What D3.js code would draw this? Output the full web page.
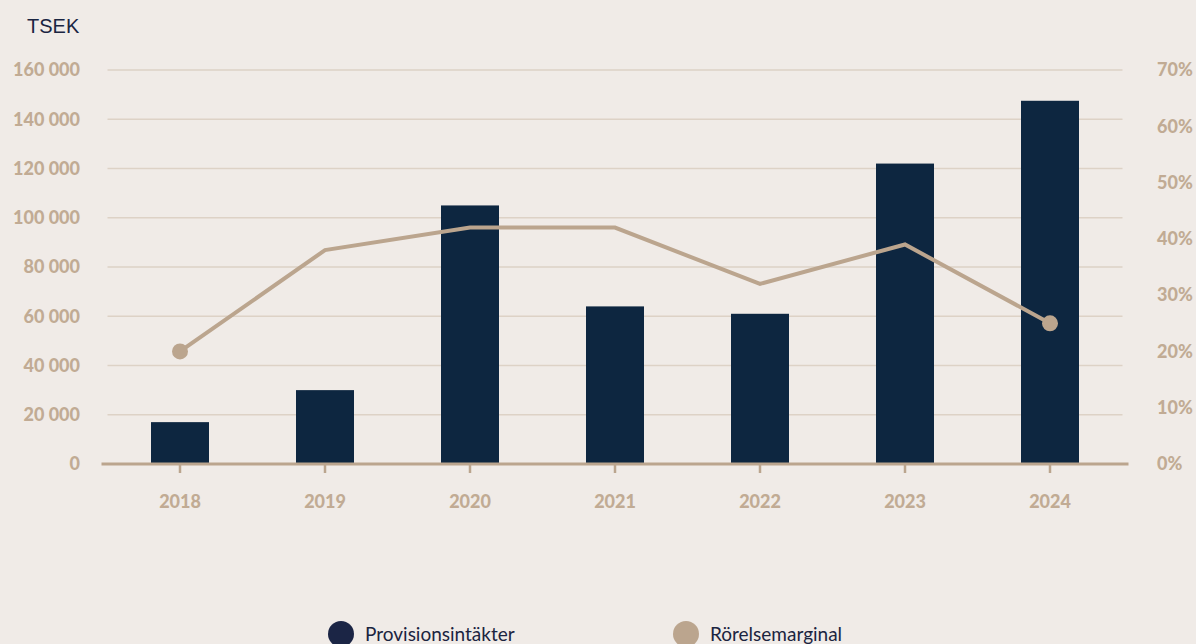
<!DOCTYPE html>
<html lang="sv">
<head>
<meta charset="UTF-8">
<title>Provisionsintäkter och rörelsemarginal</title>
<style>
  body { margin: 0; background: #f0ebe7; }
  svg { display: block; }
  .tick-label { font-family: Lato, "Open Sans", sans-serif; font-weight: 900; font-size: 18px; fill: #c1ab94; }
  .legend text { font-family: Lato, "Open Sans", sans-serif; font-size: 19px; fill: #1b2440; }
</style>
</head>
<body>
<svg width="1196" height="644"></svg>
<script src="https://d3js.org/d3.v7.min.js"></script>
<script>
// data
var years = ["2018", "2019", "2020", "2021", "2022", "2023", "2024"];
var provision = [17000, 30000, 105000, 64000, 61000, 122000, 147500];
var margin = [20, 38, 42, 42, 32, 39, 25];
var leftTicks = [0, 20000, 40000, 60000, 80000, 100000, 120000, 140000, 160000];
var rightTicks = [0, 10, 20, 30, 40, 50, 60, 70];

var svg = d3.select("svg");
var plotLeft = 107.5, plotRight = 1122.5, plotTop = 70, plotBottom = 464;

var x = d3.scaleBand().domain(years).range([plotLeft, plotRight]).paddingInner(0.6).paddingOuter(0.3);
var y = d3.scaleLinear().domain([0, 160000]).range([plotBottom, plotTop]);
var y2 = d3.scaleLinear().domain([0, 70]).range([plotBottom, plotTop]);

function fmt(v) { return d3.format(",")(v).replace(/,/g, " "); }

// gridlines
svg.append("g").selectAll("line")
  .data(leftTicks.slice(1))
  .join("line")
  .attr("x1", plotLeft).attr("x2", plotRight)
  .attr("y1", function(d) { return y(d); }).attr("y2", function(d) { return y(d); })
  .attr("stroke", "#ddd2c6").attr("stroke-width", 1.3);

// bars
svg.append("g").selectAll("rect")
  .data(years)
  .join("rect")
  .attr("x", function(d) { return x(d); })
  .attr("width", x.bandwidth())
  .attr("y", function(d, i) { return y(provision[i]); })
  .attr("height", function(d, i) { return plotBottom - y(provision[i]); })
  .attr("fill", "#0d2640");

// x axis
var xAxis = d3.axisBottom(x).tickSize(9).tickSizeOuter(0).tickPadding(22);
var gx = svg.append("g").attr("transform", "translate(0," + plotBottom + ")").call(xAxis);
gx.select(".domain").attr("d", "M" + (plotLeft - 6) + ",0H" + (plotRight + 6)).attr("stroke", "#bba58e").attr("stroke-width", 3);
gx.selectAll(".tick line").attr("stroke", "#bba58e").attr("stroke-width", 2.5);
gx.selectAll(".tick text").attr("class", "tick-label").attr("font-size", null).attr("font-family", null).attr("fill", null);

// left axis
var gy = svg.append("g").attr("transform", "translate(80,0)")
  .call(d3.axisLeft(y).tickValues(leftTicks).tickFormat(fmt).tickSize(0).tickPadding(0));
gy.select(".domain").remove();
gy.selectAll(".tick text").attr("class", "tick-label").attr("font-size", null).attr("font-family", null).attr("fill", null);

// right axis
var gy2 = svg.append("g").attr("transform", "translate(1157,0)")
  .call(d3.axisRight(y2).tickValues(rightTicks).tickFormat(function(d) { return d + "%"; }).tickSize(0).tickPadding(0));
gy2.select(".domain").remove();
gy2.selectAll(".tick text").attr("class", "tick-label").attr("font-size", null).attr("font-family", null).attr("fill", null);

// line
var cx = function(i) { return x(years[i]) + x.bandwidth() / 2; };
var line = d3.line()
  .x(function(d, i) { return cx(i); })
  .y(function(d) { return y2(d); });
svg.append("path")
  .datum(margin)
  .attr("d", line)
  .attr("fill", "none")
  .attr("stroke", "#bba58e")
  .attr("stroke-width", 4);

svg.append("g").selectAll("circle")
  .data([0, margin.length - 1])
  .join("circle")
  .attr("cx", function(i) { return cx(i); })
  .attr("cy", function(i) { return y2(margin[i]); })
  .attr("r", 8)
  .attr("fill", "#bba58e");

// unit label
svg.append("text")
  .attr("x", 27).attr("y", 33)
  .attr("font-family", "'Liberation Sans', Arial, sans-serif")
  .attr("font-size", 20)
  .attr("fill", "#1a2542")
  .text("TSEK");

// legend
var legendItems = [
  { name: "Provisionsintäkter", color: "#1b2545", x: 341 },
  { name: "Rörelsemarginal", color: "#bba58e", x: 686 }
];
var lg = svg.append("g").attr("class", "legend").selectAll("g")
  .data(legendItems)
  .join("g")
  .attr("transform", function(d) { return "translate(" + d.x + ",634)"; });
lg.append("circle").attr("r", 13).attr("fill", function(d) { return d.color; });
lg.append("text").attr("x", 24).attr("y", 7).text(function(d) { return d.name; });
</script>
</body>
</html>
